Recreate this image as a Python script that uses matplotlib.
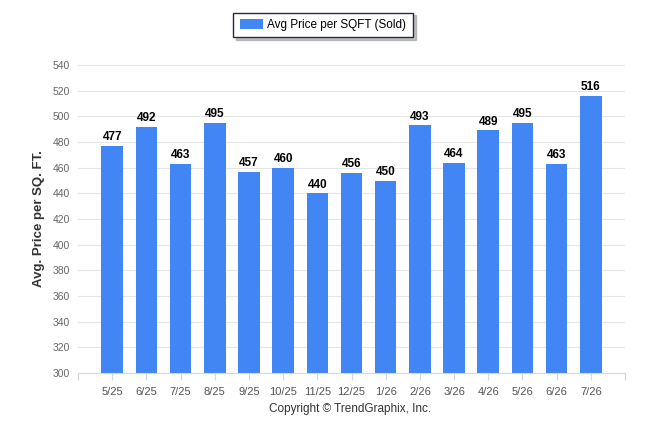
import numpy as np
import matplotlib.pyplot as plt

plt.rcParams['font.family'] = ['Liberation Sans', 'DejaVu Sans']

months = ['5/25', '6/25', '7/25', '8/25', '9/25', '10/25', '11/25', '12/25',
          '1/26', '2/26', '3/26', '4/26', '5/26', '6/26', '7/26']
price_sqft = [477, 492, 463, 495, 457, 460, 440, 456, 450, 493, 464, 489, 495, 463, 516]

y_ticks = list(range(300, 541, 20))

bar_color = '#4285f4'
grid_color = '#e6e6e6'

fig = plt.figure(figsize=(6.46, 4.34), dpi=100)
ax = fig.add_axes([78 / 646, 61 / 434, 547 / 646, 308 / 434])

x = np.arange(len(months))
bars = ax.bar(x, price_sqft, width=0.63, color=bar_color, zorder=3,
              label='Avg Price per SQFT (Sold)')

for xi, v in zip(x, price_sqft):
    ax.text(xi, v + 2, str(v), ha='center', va='bottom', fontsize=8.5,
            fontweight='bold', color='black', zorder=4)

ax.set_xlim(-1, len(months))
ax.set_ylim(300, 540)
ax.set_yticks(y_ticks)
ax.set_yticklabels([str(t) for t in y_ticks], fontsize=7.5, color='#666666')
ax.set_xticks(np.arange(-1, len(months) + 1))
ax.set_xticklabels([''] + months + [''], fontsize=8, color='#555555')
ax.tick_params(axis='y', length=0, pad=6)
ax.tick_params(axis='x', length=5, color='#d8d8d8', pad=5)

ax.grid(axis='y', color=grid_color, linewidth=0.8, zorder=0)
for s in ['top', 'right', 'left']:
    ax.spines[s].set_visible(False)
ax.spines['bottom'].set_color('#d8d8d8')
ax.spines['bottom'].set_zorder(5)

ax.set_ylabel('Avg. Price per SQ. FT.', fontsize=9.5, fontweight='bold',
              color='#333333', labelpad=5)

fig.text(350 / 646, 1 - 409 / 434, 'Copyright \u00a9 TrendGraphix, Inc.',
         ha='center', va='center', fontsize=8.5, color='#333333')

leg = fig.legend(handles=[bars], loc='center', bbox_to_anchor=(323 / 646, 1 - 25 / 434),
                 fontsize=8.5, frameon=True, fancybox=False,
                 shadow={'color': '#999999', 'alpha': 0.6},
                 handlelength=2.0, handleheight=0.9, handletextpad=0.35,
                 borderpad=0.55)
leg.get_frame().set_edgecolor('#1f2d4a')
leg.get_frame().set_linewidth(1.0)

fig.savefig('out.png', dpi=100)
